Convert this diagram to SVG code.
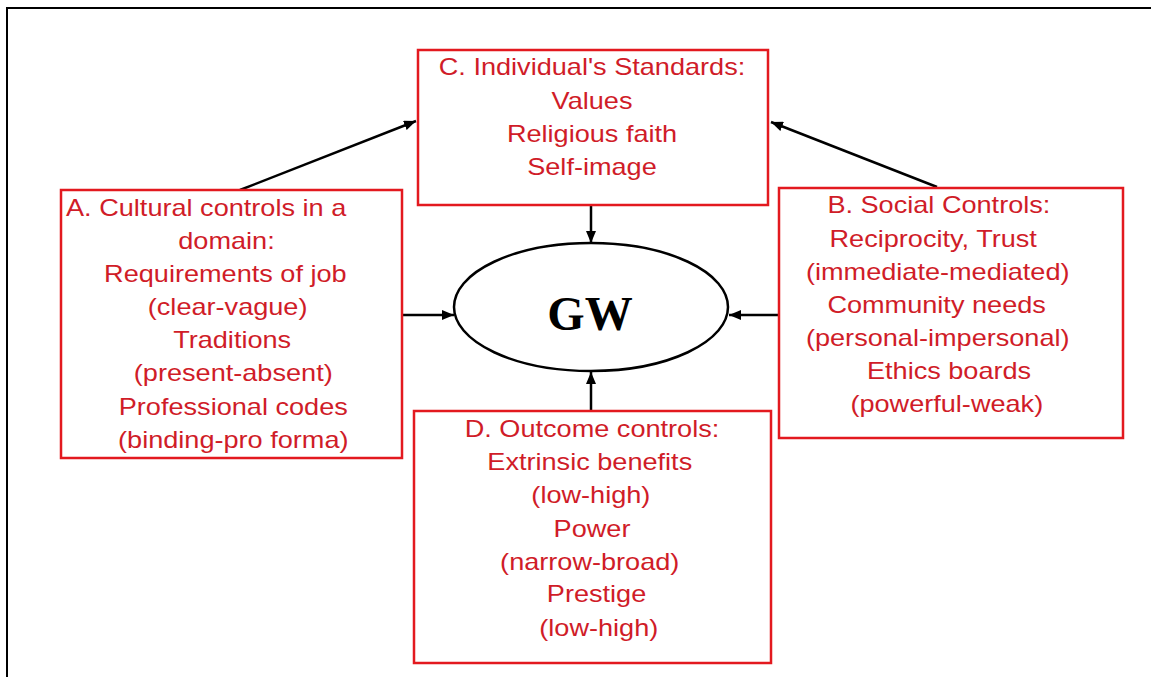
<svg xmlns="http://www.w3.org/2000/svg" width="1151" height="677" viewBox="0 0 1151 677">
<style>
.box{fill:#fff;stroke:#e3191f;stroke-width:2.5}
.t{font-family:"Liberation Sans",Arial,sans-serif;font-size:24px;fill:#d01c28;text-anchor:middle}
.c{stroke:#000;stroke-width:2.5;fill:none;marker-end:url(#ah)}
</style>
<defs>
<marker id="ah" viewBox="0 0 12 10" refX="12" refY="5" markerWidth="12" markerHeight="10" markerUnits="userSpaceOnUse" orient="auto">
<path d="M0,0 L12,5 L0,10 Z" fill="#000"/>
</marker>
</defs>
<rect width="1151" height="677" fill="#fff"/>
<path d="M7,677 V8 H1151" fill="none" stroke="#000" stroke-width="2"/>
<g id="connectors">
<line class="c" x1="240" y1="190" x2="416" y2="121"/>
<line class="c" x1="937" y1="187" x2="771" y2="122"/>
<line class="c" x1="591" y1="206" x2="591" y2="243"/>
<line class="c" x1="402" y1="315" x2="454" y2="315"/>
<line class="c" x1="779" y1="315" x2="729" y2="315"/>
<line class="c" x1="591" y1="411" x2="591" y2="372"/>
</g>
<g id="nodeC">
<rect class="box" x="418" y="50" width="350" height="155"/>
<g transform="translate(592,0) scale(1.13,1)">
<text class="t" x="0" y="75">C. Individual's Standards:</text>
<text class="t" x="0" y="109">Values</text>
<text class="t" x="0" y="142">Religious faith</text>
<text class="t" x="0" y="175">Self-image</text>
</g>
</g>
<g id="nodeA">
<rect class="box" x="61" y="190" width="341" height="268"/>
<g transform="translate(231,0) scale(1.13,1)">
<text class="t" x="-146" y="216" style="text-anchor:start">A. Cultural controls in a</text>
<text class="t" x="-4" y="249">domain:</text>
<text class="t" x="-5" y="282">Requirements of job</text>
<text class="t" x="-3" y="315">(clear-vague)</text>
<text class="t" x="1" y="348">Traditions</text>
<text class="t" x="2" y="381">(present-absent)</text>
<text class="t" x="2" y="415">Professional codes</text>
<text class="t" x="2" y="448">(binding-pro forma)</text>
</g>
</g>
<g id="nodeB">
<rect class="box" x="779" y="188" width="344" height="250"/>
<g transform="translate(940,0) scale(1.13,1)">
<text class="t" x="-1" y="213">B. Social Controls:</text>
<text class="t" x="-6" y="247">Reciprocity, Trust</text>
<text class="t" x="-2" y="280">(immediate-mediated)</text>
<text class="t" x="-3" y="313">Community needs</text>
<text class="t" x="-2" y="346">(personal-impersonal)</text>
<text class="t" x="8" y="379">Ethics boards</text>
<text class="t" x="6" y="412">(powerful-weak)</text>
</g>
</g>
<g id="nodeGW">
<ellipse cx="591" cy="307" rx="137" ry="64" fill="#fff" stroke="#000" stroke-width="2.5"/>
<text x="590" y="330" font-family="'Liberation Serif','Times New Roman',serif" font-weight="bold" font-size="48" text-anchor="middle" fill="#000">GW</text>
</g>
<g id="nodeD">
<rect class="box" x="414" y="411" width="357" height="252"/>
<g transform="translate(592,0) scale(1.13,1)">
<text class="t" x="0" y="437">D. Outcome controls:</text>
<text class="t" x="-2" y="470">Extrinsic benefits</text>
<text class="t" x="-1" y="503">(low-high)</text>
<text class="t" x="0" y="537">Power</text>
<text class="t" x="-2" y="570">(narrow-broad)</text>
<text class="t" x="4" y="602">Prestige</text>
<text class="t" x="6" y="636">(low-high)</text>
</g>
</g>
</svg>
